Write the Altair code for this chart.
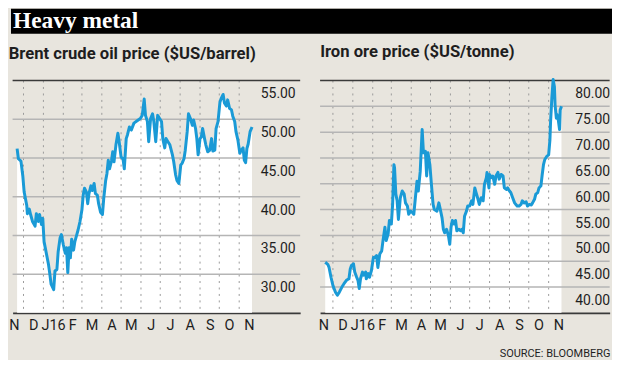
import altair as alt
import pandas as pd

TITLE = "Heavy metal"
OIL_TITLE = "Brent crude oil price ($US/barrel)"
ORE_TITLE = "Iron ore price ($US/tonne)"
SOURCE = "SOURCE: BLOOMBERG"

OIL_DATES = [
    "2015-11-21", "2015-11-23", "2015-11-27", "2015-11-30", "2015-12-02", "2015-12-06", "2015-12-07",
    "2015-12-10", "2015-12-12", "2015-12-15", "2015-12-19", "2015-12-21", "2015-12-24", "2015-12-26",
    "2015-12-29", "2015-12-31", "2016-01-02", "2016-01-06", "2016-01-09", "2016-01-11", "2016-01-13",
    "2016-01-17", "2016-01-19", "2016-01-22", "2016-01-24", "2016-01-27", "2016-01-29", "2016-02-01",
    "2016-02-04", "2016-02-06", "2016-02-08", "2016-02-10", "2016-02-12", "2016-02-14", "2016-02-17",
    "2016-02-19", "2016-02-22", "2016-02-24", "2016-02-27", "2016-03-01", "2016-03-03", "2016-03-05",
    "2016-03-08", "2016-03-10", "2016-03-12", "2016-03-15", "2016-03-17", "2016-03-20", "2016-03-22",
    "2016-03-25", "2016-03-27", "2016-03-30", "2016-04-02", "2016-04-04", "2016-04-07", "2016-04-09",
    "2016-04-11", "2016-04-13", "2016-04-16", "2016-04-18", "2016-04-20", "2016-04-23", "2016-04-26",
    "2016-04-28", "2016-05-01", "2016-05-04", "2016-05-06", "2016-05-09", "2016-05-11", "2016-05-14",
    "2016-05-17", "2016-05-21", "2016-05-26", "2016-05-31", "2016-06-03", "2016-06-06", "2016-06-08",
    "2016-06-11", "2016-06-13", "2016-06-16", "2016-06-19", "2016-06-21", "2016-06-24", "2016-06-27",
    "2016-06-30", "2016-07-03", "2016-07-05", "2016-07-08", "2016-07-10", "2016-07-13", "2016-07-16",
    "2016-07-20", "2016-07-22", "2016-07-25", "2016-07-27", "2016-07-30", "2016-08-02", "2016-08-04",
    "2016-08-07", "2016-08-09", "2016-08-12", "2016-08-14", "2016-08-17", "2016-08-20", "2016-08-22",
    "2016-08-25", "2016-08-27", "2016-08-29", "2016-09-01", "2016-09-03", "2016-09-05", "2016-09-08",
    "2016-09-10", "2016-09-13", "2016-09-16", "2016-09-19", "2016-09-21", "2016-09-24", "2016-09-26",
    "2016-09-29", "2016-10-02", "2016-10-04", "2016-10-07", "2016-10-09", "2016-10-12", "2016-10-14",
    "2016-10-17", "2016-10-20", "2016-10-22", "2016-10-25", "2016-10-27", "2016-10-30", "2016-11-02",
    "2016-11-04", "2016-11-07", "2016-11-09", "2016-11-11", "2016-11-13", "2016-11-15", "2016-11-18",
    "2016-11-21",
]
OIL_PRICES = [
    46.2, 44.9, 44.6, 42.6, 40.6, 38.9, 37.8,
    38.4, 37.7, 36.8, 36.2, 37.8, 36.8, 37.7,
    36.4, 37.2, 34.2, 32.5, 31.2, 30.0, 28.7,
    28.0, 30.4, 30.6, 32.9, 34.7, 35.1, 33.8,
    32.7, 33.4, 30.2, 33.4, 32.1, 34.5, 33.1,
    34.2, 35.1, 35.7, 36.8, 38.3, 40.2, 41.1,
    40.6, 39.1, 40.4, 41.4, 40.8, 41.7, 40.4,
    40.2, 39.1, 38.0, 37.7, 39.8, 42.1, 43.0,
    44.7, 43.6, 44.6, 45.8, 44.5, 46.7, 48.2,
    47.1, 45.1, 44.9, 43.6, 47.5, 48.0, 49.0,
    48.6, 49.5, 49.8, 50.1, 50.5, 52.6, 50.5,
    49.7, 47.1, 50.1, 50.7, 49.7, 47.1, 50.5,
    50.1, 49.7, 47.5, 46.3, 47.5, 47.1, 46.7,
    45.4, 44.5, 42.8, 42.1, 41.7, 44.1, 44.3,
    44.9, 46.0, 48.4, 50.7, 50.1, 49.2, 49.9,
    48.8, 47.5, 45.4, 47.5, 47.7, 48.8, 47.5,
    46.7, 45.8, 46.0, 47.5, 45.9, 46.0, 48.8,
    49.7, 52.2, 52.7, 53.2, 52.1, 51.7, 52.5,
    51.4, 51.2, 50.4, 49.7, 48.4, 47.3, 45.6,
    46.0, 46.3, 44.7, 44.4, 46.2, 46.8, 48.4,
    49.0,
]

ORE_DATES = [
    "2015-11-19", "2015-11-23", "2015-11-25", "2015-11-28", "2015-12-01", "2015-12-05", "2015-12-08",
    "2015-12-11", "2015-12-15", "2015-12-18", "2015-12-22", "2015-12-26", "2015-12-28", "2015-12-30",
    "2016-01-02", "2016-01-04", "2016-01-07", "2016-01-09", "2016-01-11", "2016-01-13", "2016-01-16",
    "2016-01-18", "2016-01-21", "2016-01-22", "2016-01-25", "2016-01-27", "2016-01-30", "2016-02-02",
    "2016-02-04", "2016-02-07", "2016-02-09", "2016-02-12", "2016-02-15", "2016-02-17", "2016-02-20",
    "2016-02-22", "2016-02-25", "2016-02-27", "2016-03-01", "2016-03-03", "2016-03-05", "2016-03-06",
    "2016-03-08", "2016-03-10", "2016-03-12", "2016-03-15", "2016-03-18", "2016-03-21", "2016-03-23",
    "2016-03-26", "2016-03-28", "2016-03-31", "2016-04-03", "2016-04-05", "2016-04-08", "2016-04-10",
    "2016-04-12", "2016-04-15", "2016-04-18", "2016-04-20", "2016-04-23", "2016-04-25", "2016-04-27",
    "2016-04-30", "2016-05-02", "2016-05-05", "2016-05-07", "2016-05-11", "2016-05-14", "2016-05-16",
    "2016-05-19", "2016-05-21", "2016-05-23", "2016-05-26", "2016-05-29", "2016-05-31", "2016-06-02",
    "2016-06-04", "2016-06-07", "2016-06-09", "2016-06-11", "2016-06-14", "2016-06-17", "2016-06-19",
    "2016-06-21", "2016-06-23", "2016-06-26", "2016-06-28", "2016-07-01", "2016-07-04", "2016-07-06",
    "2016-07-09", "2016-07-11", "2016-07-14", "2016-07-16", "2016-07-19", "2016-07-22", "2016-07-24",
    "2016-07-27", "2016-07-28", "2016-07-31", "2016-08-01", "2016-08-04", "2016-08-06", "2016-08-09",
    "2016-08-11", "2016-08-14", "2016-08-16", "2016-08-19", "2016-08-22", "2016-08-24", "2016-08-27",
    "2016-08-29", "2016-09-01", "2016-09-03", "2016-09-06", "2016-09-09", "2016-09-11", "2016-09-13",
    "2016-09-16", "2016-09-19", "2016-09-21", "2016-09-24", "2016-09-27", "2016-09-29", "2016-10-02",
    "2016-10-05", "2016-10-07", "2016-10-10", "2016-10-12", "2016-10-15", "2016-10-17", "2016-10-20",
    "2016-10-22", "2016-10-24", "2016-10-26", "2016-10-29", "2016-11-01", "2016-11-03", "2016-11-04",
    "2016-11-06", "2016-11-08", "2016-11-10", "2016-11-11", "2016-11-13", "2016-11-14", "2016-11-16",
    "2016-11-18", "2016-11-19", "2016-11-21",
]
ORE_PRICES = [
    44.8, 44.4, 43.8, 41.9, 40.3, 39.0, 38.4,
    39.0, 40.0, 40.6, 41.3, 41.6, 43.5, 44.2,
    44.5, 42.9, 41.9, 41.3, 39.7, 41.6, 42.9,
    42.3, 42.9, 41.6, 42.6, 41.9, 43.2, 45.7,
    45.7, 46.1, 43.8, 46.4, 47.0, 49.0, 51.6,
    49.0, 50.3, 52.9, 52.2, 56.0, 63.7, 63.1,
    58.0, 56.7, 53.1, 57.3, 58.6, 58.0, 56.3,
    55.7, 54.1, 54.7, 54.4, 54.1, 58.0, 60.5,
    58.6, 62.4, 70.5, 66.0, 66.3, 61.5, 66.0,
    63.7, 60.5, 56.0, 55.0, 54.7, 56.3, 55.2,
    53.4, 51.2, 50.5, 51.2, 49.9, 48.3, 51.6,
    52.9, 52.2, 52.9, 50.9, 51.2, 50.9, 51.2,
    50.5, 53.7, 54.7, 55.7, 55.7, 56.7, 56.0,
    59.2, 58.3, 57.0, 56.0, 57.3, 56.7, 59.9,
    61.2, 62.2, 59.2, 61.8, 61.2, 61.5, 59.9,
    61.5, 62.2, 60.9, 61.8, 61.5, 59.2, 58.9,
    59.2, 58.6, 58.3, 57.3, 56.3, 56.0, 55.7,
    55.7, 56.0, 56.7, 56.3, 56.5, 55.7, 56.0,
    55.9, 56.3, 57.0, 58.0, 58.3, 59.2, 59.6,
    61.8, 63.7, 64.7, 65.3, 65.6, 68.5, 72.0,
    76.6, 80.2, 78.8, 75.3, 72.7, 73.4, 72.4,
    70.5, 74.3, 75.0,
]

MONTH_STARTS = [
    "2015-12-01", "2016-01-01", "2016-02-01", "2016-03-01", "2016-04-01", "2016-05-01",
    "2016-06-01", "2016-07-01", "2016-08-01", "2016-09-01", "2016-10-01", "2016-11-01",
]
LABEL_DATES = [
    "2015-11-16", "2015-12-16", "2016-01-16", "2016-02-15", "2016-03-16", "2016-04-16", "2016-05-16",
    "2016-06-16", "2016-07-16", "2016-08-16", "2016-09-16", "2016-10-16", "2016-11-16",
]
# label for each calendar month (Jan..Dec)
MONTH_LETTERS = ["J16", "F", "M", "A", "M", "J", "J", "A", "S", "O", "N", "D"]

OIL_DOMAIN = [25, 55]
OIL_TICKS = [30, 35, 40, 45, 50, 55]
ORE_DOMAIN = [35, 80]
ORE_TICKS = [40, 45, 50, 55, 60, 65, 70, 75, 80]
OIL_X_DOMAIN = ["2015-11-14", "2017-02-04"]
ORE_X_DOMAIN = ["2015-11-11", "2017-02-04"]

BG = "#e8e5de"
BLUE = "#1a9ad6"
INK = "#1e1e1e"
GRID = "#b5b5b5"
FRAME = "#3a3a3a"
DOTS = "#9a9a9a"
SANS = "Roboto"


def dt(s):
    t = pd.Timestamp(s)
    return alt.DateTime(year=t.year, month=t.month, date=t.day)


LABEL_EXPR = "[" + ",".join("'" + m + "'" for m in MONTH_LETTERS) + "][month(datum.value)]"


def panel(dates, prices, title, y_domain, y_ticks, x_domain, width, label_pad, title_dx):
    df = pd.DataFrame({"date": pd.to_datetime(dates), "price": prices})
    grid_df = pd.DataFrame({"g": [v for v in y_ticks if v < y_domain[1]]})
    top_df = pd.DataFrame({"g": [y_domain[1]]})
    month_df = pd.DataFrame({"m": pd.to_datetime(MONTH_STARTS)})
    xs = alt.Scale(domain=[dt(x_domain[0]), dt(x_domain[1])])
    ys = alt.Scale(domain=y_domain, nice=False, zero=False)
    xaxis = alt.Axis(
        values=[dt(d) for d in LABEL_DATES], labelExpr=LABEL_EXPR, title=None, grid=False,
        ticks=False, tickSize=0, domainColor=FRAME, domainWidth=1.8, labelFont=SANS,
        labelFontSize=14.5, labelColor=INK, labelPadding=6, labelOverlap=False,
        labelFlush=False, labelAlign="center",
    )
    yaxis = alt.Axis(
        orient="right", values=y_ticks, format=".2f", title=None, grid=False, ticks=False,
        tickSize=0, domain=False, labelAlign="right", labelBaseline="alphabetic",
        labelOffset=17.5, labelPadding=label_pad, labelFont=SANS, labelFontSize=14,
        labelColor=INK, labelOverlap=False, labelFlush=False,
    )

    def X(f):
        return alt.X(f, scale=xs, axis=xaxis)

    def Y(f):
        return alt.Y(f, scale=ys, axis=yaxis)

    area = alt.Chart(df).mark_area(color="white").encode(
        x=X("date:T"), y=Y("price:Q"), y2=alt.datum(y_domain[0])
    )
    vrules = alt.Chart(month_df).mark_rule(color=DOTS, strokeDash=[2, 4.5], strokeWidth=1).encode(x=X("m:T"))
    hrules = alt.Chart(grid_df).mark_rule(color=GRID, strokeWidth=1.5).encode(y=Y("g:Q"))
    top = alt.Chart(top_df).mark_rule(color=FRAME, strokeWidth=1.5).encode(y=Y("g:Q"))
    line = alt.Chart(df).mark_line(color=BLUE, strokeWidth=3, strokeJoin="round").encode(
        x=X("date:T"), y=Y("price:Q")
    )
    return alt.layer(area, vrules, hrules, top, line).properties(
        width=width,
        height=233.5,
        title=alt.TitleParams(
            text=title, anchor="start", font=SANS, fontSize=16.7, fontWeight="bold", color=INK,
            offset=17, dx=title_dx,
        ),
    )


left = panel(OIL_DATES, OIL_PRICES, OIL_TITLE, OIL_DOMAIN, OIL_TICKS, OIL_X_DOMAIN, 289, -5, 0)
right = panel(ORE_DATES, ORE_PRICES, ORE_TITLE, ORE_DOMAIN, ORE_TICKS, ORE_X_DOMAIN, 291, 0, 2)

header = alt.Chart(pd.DataFrame({"t": [TITLE]})).mark_text(
    align="left", baseline="alphabetic", font="Liberation Serif", fontSize=23.5,
    fontWeight="bold", color="white",
).encode(x=alt.value(2), y=alt.value(19), text="t:N").properties(
    width=604, height=25, view=alt.ViewBackground(fill="black", stroke=None)
)

row = alt.hconcat(
    left, right, spacing=17,
    title=alt.TitleParams(
        text=SOURCE, orient="bottom", anchor="end", font=SANS, fontSize=11,
        fontWeight="normal", color=INK, offset=16,
    ),
)

chart = alt.vconcat(header, row, spacing=10, center=True).properties(
    background=BG, padding=0
).configure_view(stroke=None)

chart.save("out.html", embed_options={"renderer": "svg", "actions": False})
